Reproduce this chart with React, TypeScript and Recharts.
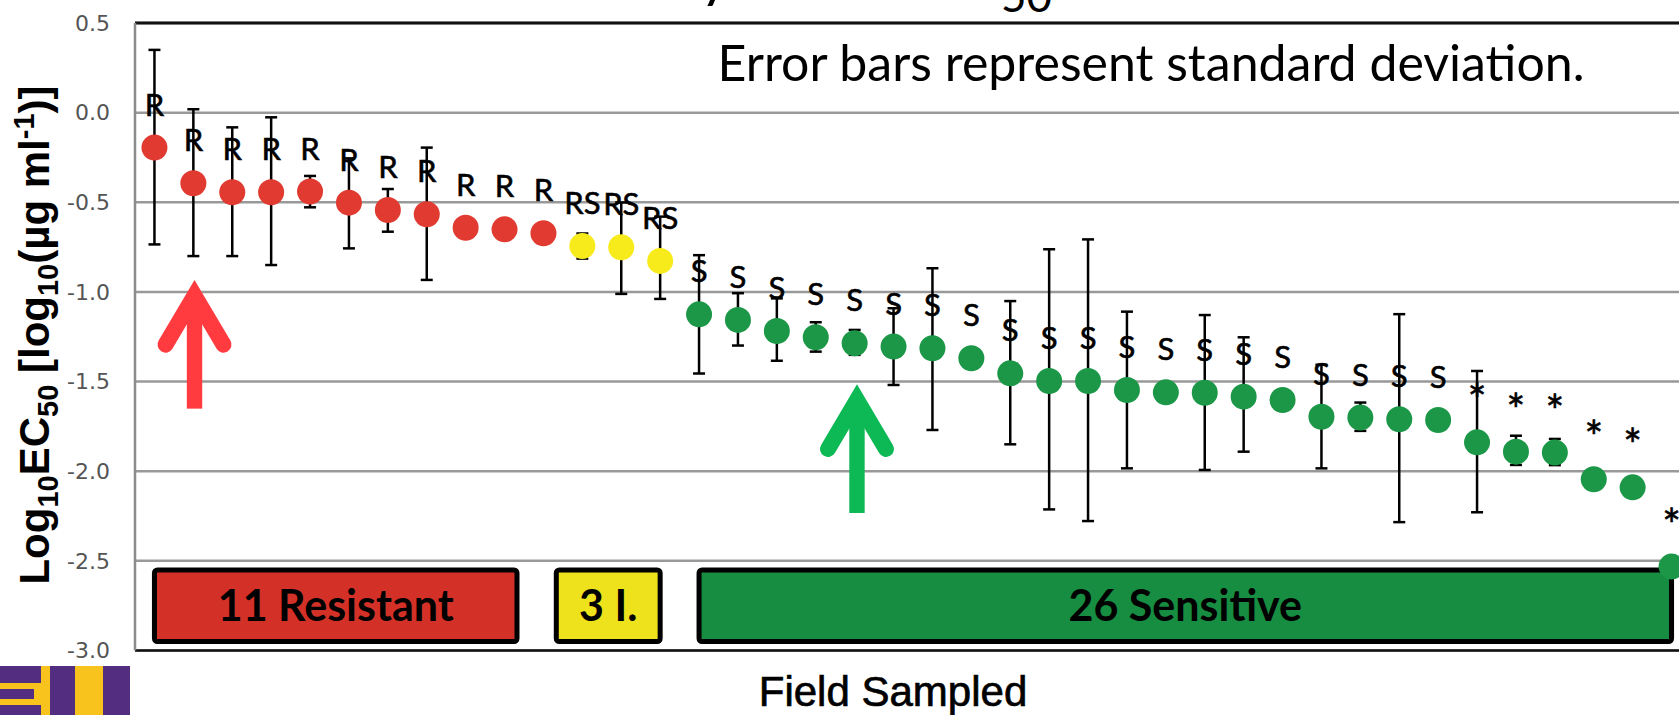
import React from 'react';
import {
  ScatterChart,
  Scatter,
  XAxis,
  YAxis,
  CartesianGrid,
  ErrorBar,
  ReferenceArea,
  ReferenceLine,
  ReferenceDot,
  Label,
} from 'recharts';

// ---------- data ----------
const fieldIndex = [
  1, 2, 3, 4, 5, 6, 7, 8, 9, 10, 11, 12, 13, 14, 15, 16, 17, 18, 19, 20,
  21, 22, 23, 24, 25, 26, 27, 28, 29, 30, 31, 32, 33, 34, 35, 36, 37, 38, 39, 40,
];
const log10EC50 = [
  -0.195, -0.394, -0.444, -0.444, -0.44, -0.502, -0.543, -0.567, -0.642, -0.651,
  -0.673, -0.744, -0.751, -0.827, -1.125, -1.156, -1.218, -1.253, -1.286, -1.305,
  -1.314, -1.37, -1.454, -1.497, -1.497, -1.547, -1.56, -1.562, -1.584, -1.603,
  -1.696, -1.701, -1.71, -1.714, -1.839, -1.891, -1.896, -2.045, -2.09, -2.532,
];
const sdUpper = [
  0.545, 0.413, 0.362, 0.418, 0.087, 0.247, 0.117, 0.372, 0, 0,
  0, 0.07, 0.25, 0.247, 0.33, 0.149, 0.182, 0.084, 0.074, 0.214,
  0.446, 0, 0.403, 0.735, 0.79, 0.437, 0, 0.433, 0.331, 0,
  0.29, 0.084, 0.586, 0, 0.398, 0.089, 0.076, 0, 0, 0,
];
const sdLower = [
  0.54, 0.406, 0.356, 0.406, 0.088, 0.255, 0.121, 0.366, 0, 0,
  0, 0.07, 0.26, 0.212, 0.33, 0.143, 0.166, 0.08, 0.065, 0.214,
  0.456, 0, 0.396, 0.716, 0.781, 0.437, 0, 0.431, 0.307, 0,
  0.288, 0.074, 0.574, 0, 0.39, 0.074, 0.07, 0, 0, 0,
];
const classLabels = [
  'R', 'R', 'R', 'R', 'R', 'R', 'R', 'R', 'R', 'R',
  'R', 'RS', 'RS', 'RS', 'S', 'S', 'S', 'S', 'S', 'S',
  'S', 'S', 'S', 'S', 'S', 'S', 'S', 'S', 'S', 'S',
  'S', 'S', 'S', 'S', '*', '*', '*', '*', '*', '*',
];
const yTicks = [0.5, 0, -0.5, -1, -1.5, -2, -2.5, -3];

const groupNames = ['11 Resistant', '3 I.', '26 Sensitive'];
const groupFrom = [1.0, 11.33, 15.0];
const groupTo = [10.32, 14.0, 40.0];
const groupBoxColors = ['#D33127', '#EDE21B', '#168D41'];
const boxTop = -2.551;
const boxBottom = -2.95;

const arrowField = [2.03, 19.06];
const arrowValue = [-0.937, -1.519];
const arrowColors = ['#FF3B3F', '#0CB955'];

const dotColor = (cls: string) =>
  cls === 'R' ? '#E03A31' : cls === 'RS' ? '#F8EB1C' : '#1C9747';

const rows = fieldIndex.map((f, i) => ({
  field: f,
  value: log10EC50[i],
  sd: [sdLower[i], sdUpper[i]],
  cls: classLabels[i],
}));

// ---------- render helpers ----------
const PointShape = (props: any) => {
  const { cx, cy, payload } = props;
  if (cx == null || cy == null) return <g />;
  const star = payload.cls === '*';
  return (
    <g>
      <circle cx={cx} cy={cy} r={13} fill={dotColor(payload.cls)} />
      <text
        x={cx}
        y={star ? cy - 26 : cy - 32}
        textAnchor="middle"
        fontFamily="Lato, 'Noto Sans', sans-serif"
        fontSize={star ? 44 : 31}
        fill="#000"
        stroke="#000"
        strokeWidth={0.6}
      >
        {payload.cls}
      </text>
    </g>
  );
};

const ArrowShape = (color: string) => (props: any) => {
  const { cx, cy } = props;
  return (
    <g>
      <rect x={cx - 7.7} y={cy + 20} width={15.4} height={108} fill={color} />
      <polyline
        points={`${cx - 29},${cy + 64} ${cx},${cy + 15} ${cx + 29},${cy + 64}`}
        fill="none"
        stroke={color}
        strokeWidth={16}
        strokeLinecap="round"
        strokeLinejoin="miter"
        strokeMiterlimit={10}
      />
    </g>
  );
};

const BoxLabel = (text: string) => (props: any) => {
  const vb = props.viewBox || {};
  return (
    <text
      x={vb.x + vb.width / 2}
      y={vb.y + vb.height / 2 + 15}
      textAnchor="middle"
      fontFamily="Lato, 'Noto Sans', sans-serif"
      fontWeight="bold"
      fontSize={43}
      fill="#000"
    >
      {text}
    </text>
  );
};

const YTitle = () => (
  <text
    transform="translate(49,335) rotate(-90)"
    textAnchor="middle"
    fontFamily="'Liberation Sans', Arial, sans-serif"
    fontWeight="bold"
    fontSize={42}
    fill="#000"
  >
    <tspan>Log</tspan>
    <tspan dy={9} fontSize={29}>10</tspan>
    <tspan dy={-9}>EC</tspan>
    <tspan dy={9} fontSize={29}>50</tspan>
    <tspan dy={-9}>{' [log'}</tspan>
    <tspan dy={9} fontSize={29}>10</tspan>
    <tspan dy={-9}>(µg ml</tspan>
    <tspan dy={-15} fontSize={29}>-1</tspan>
    <tspan dy={15}>)]</tspan>
  </text>
);

const XTitle = () => (
  <text
    x={893}
    y={706}
    textAnchor="middle"
    fontFamily="'Liberation Sans', Arial, sans-serif"
    fontWeight={400}
    fontSize={42}
    fill="#000"
    stroke="#000"
    strokeWidth={0.7}
  >
    Field Sampled
  </text>
);

export default function App() {
  return (
    <div
      style={{
        position: 'fixed',
        left: 0,
        top: 0,
        width: 1679,
        height: 715,
        overflow: 'hidden',
        background: '#fff',
      }}
    >
      <ScatterChart width={1700} height={715} margin={{ top: 23, right: 9, bottom: 0, left: 0 }}>
        <CartesianGrid vertical={false} stroke="#999" strokeWidth={2.5} />
        <XAxis
          type="number"
          dataKey="field"
          domain={[0.5, 40.5]}
          ticks={[]}
          tick={false}
          tickLine={false}
          height={64.5}
          axisLine={{ stroke: '#111', strokeWidth: 2.5 }}
        >
          <Label content={XTitle} />
        </XAxis>
        <YAxis
          type="number"
          dataKey="value"
          domain={[-3, 0.5]}
          ticks={yTicks}
          interval={0}
          width={135}
          tickLine={false}
          tickSize={0}
          tickMargin={25}
          tickFormatter={(v: number) => v.toFixed(1)}
          tick={{ fontFamily: "'DejaVu Sans', sans-serif", fontSize: 22, fill: '#555' }}
          axisLine={{ stroke: '#8c8c8c', strokeWidth: 2.5 }}
        >
          <Label content={YTitle} />
        </YAxis>
        <ReferenceLine y={0.5} stroke="#111" strokeWidth={3} />
        <Scatter data={rows} shape={() => <g />} isAnimationActive={false}>
          <ErrorBar dataKey="sd" direction="y" width={6} stroke="#000" strokeWidth={2.5} />
        </Scatter>
        <Scatter data={rows} shape={PointShape} isAnimationActive={false} />
        {groupNames.map((name, i) => (
          <ReferenceArea
            key={name}
            x1={groupFrom[i]}
            x2={groupTo[i]}
            y1={boxBottom}
            y2={boxTop}
            fill={groupBoxColors[i]}
            fillOpacity={1}
            stroke="#000"
            strokeWidth={5}
            radius={3}
          >
            <Label content={BoxLabel(name)} />
          </ReferenceArea>
        ))}
        {arrowField.map((f, i) => (
          <ReferenceDot
            key={i}
            x={f}
            y={arrowValue[i]}
            r={0}
            shape={ArrowShape(arrowColors[i])}
          />
        ))}
      </ScatterChart>
      <svg
        width={1679}
        height={715}
        style={{ position: 'absolute', left: 0, top: 0, pointerEvents: 'none' }}
      >
        <text x={700} y={-4} fontFamily="Lato, sans-serif" fontSize={58} fill="#000">y</text>
        <text x={1001} y={12} fontFamily="Lato, sans-serif" fontSize={44} fill="#000">50</text>
        <text
          x={717.5}
          y={81}
          fontFamily="Lato, 'Noto Sans', sans-serif"
          fontSize={50}
          fill="#000"
        >
          Error bars represent standard deviation.
        </text>
        <g>
          <rect x={0} y={666} width={130} height={49} fill="#532D80" />
          <rect x={0} y={683} width={42} height={22} fill="#F9C31E" />
          <rect x={0} y={689} width={34} height={10} fill="#532D80" />
          <rect x={41} y={666} width={9} height={49} fill="#F9C31E" />
          <rect x={75} y={666} width={28} height={49} fill="#F9C31E" />
        </g>
      </svg>
    </div>
  );
}
